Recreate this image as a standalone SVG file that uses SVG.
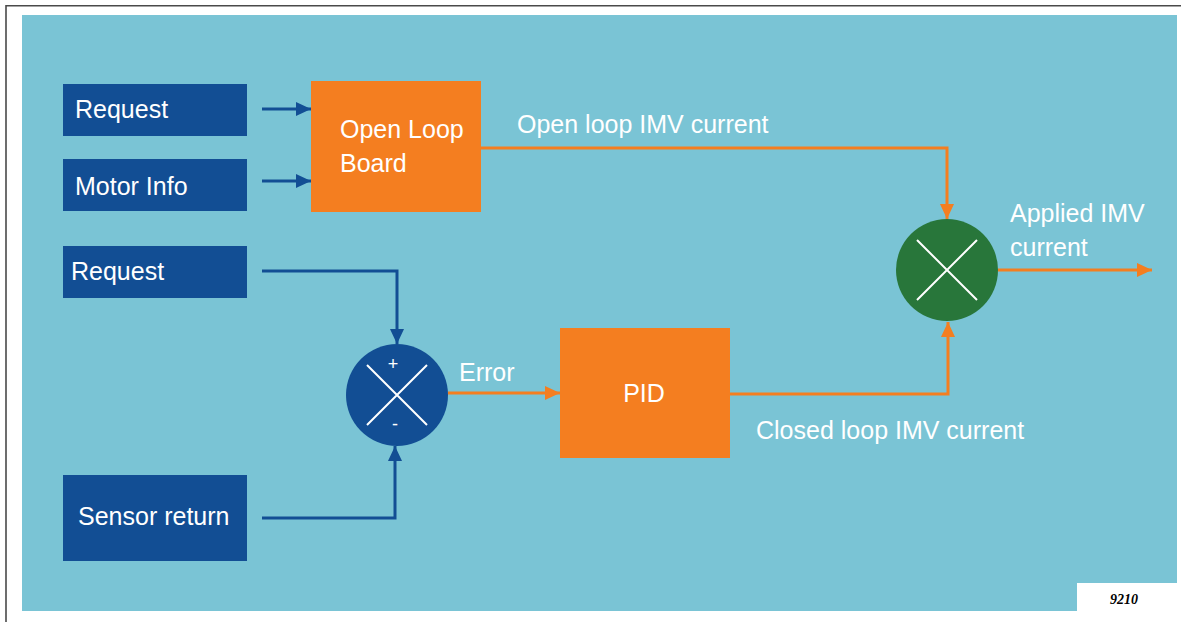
<svg xmlns="http://www.w3.org/2000/svg" width="1181" height="622" viewBox="0 0 1181 622">
<defs>
<style>
.t{font-family:"Liberation Sans",Arial,sans-serif;font-size:25px;fill:#ffffff}
.bb{fill:#124E94}
.ob{fill:#F47E20}
.bl{fill:none;stroke:#124E94;stroke-width:3}
.ol{fill:none;stroke:#F47E20;stroke-width:3}
.x{stroke:#ffffff;stroke-width:2}
</style>
<marker id="ab" markerUnits="userSpaceOnUse" markerWidth="15" markerHeight="14" refX="15" refY="7" orient="auto"><path d="M0,0 L15,7 L0,14 z" fill="#124E94"/></marker>
<marker id="ao" markerUnits="userSpaceOnUse" markerWidth="15" markerHeight="14" refX="15" refY="7" orient="auto"><path d="M0,0 L15,7 L0,14 z" fill="#F47E20"/></marker>
</defs>
<rect width="1181" height="622" fill="#ffffff"/>
<path d="M6,622 V5.8 H1181" fill="none" stroke="#4a4a4a" stroke-width="1.6"/>
<rect x="22" y="15" width="1155" height="596" fill="#7AC4D5"/>
<rect x="1077" y="583" width="100" height="28" fill="#ffffff"/>
<text x="1110" y="604" style="font-family:'Liberation Serif','Times New Roman',serif;font-size:14px;font-weight:bold;font-style:italic;fill:#000">9210</text>

<g id="connectors">
<path class="bl" d="M262,109 H311" marker-end="url(#ab)"/>
<path class="bl" d="M262,181 H311" marker-end="url(#ab)"/>
<path class="bl" d="M262,271 H397 V344" marker-end="url(#ab)"/>
<path class="bl" d="M262,518 H395 V446" marker-end="url(#ab)"/>
<path class="ol" d="M448,393 H560" marker-end="url(#ao)"/>
<path class="ol" d="M481,148 H947 V219" marker-end="url(#ao)"/>
<path class="ol" d="M730,394 H948 V322" marker-end="url(#ao)"/>
<path class="ol" d="M998,270 H1152" marker-end="url(#ao)"/>
</g>

<g id="request1"><rect class="bb" x="63" y="84" width="184" height="52"/><text class="t" x="75" y="118">Request</text></g>
<g id="motorinfo"><rect class="bb" x="63" y="159" width="184" height="52"/><text class="t" x="75" y="195">Motor Info</text></g>
<g id="openloop"><rect class="ob" x="311" y="81" width="170" height="131"/><text class="t" x="340" y="138">Open Loop</text><text class="t" x="340" y="172">Board</text></g>
<g id="request2"><rect class="bb" x="63" y="246" width="184" height="52"/><text class="t" x="71" y="280">Request</text></g>
<g id="sensor"><rect class="bb" x="63" y="475" width="184" height="86"/><text class="t" x="78" y="525">Sensor return</text></g>
<g id="sum"><circle cx="397" cy="395" r="51" fill="#124E94"/><path class="x" d="M367,365 L427,425 M427,365 L367,425"/><text class="t" x="393" y="370" text-anchor="middle" style="font-size:18px">+</text><text class="t" x="395" y="430" text-anchor="middle" style="font-size:18px">-</text></g>
<g id="pid"><rect class="ob" x="560" y="328" width="170" height="130"/><text class="t" x="644" y="402" text-anchor="middle">PID</text></g>
<g id="mult"><circle cx="947" cy="270" r="51" fill="#28763A"/><path class="x" d="M917,240 L977,300 M977,240 L917,300"/></g>

<g id="labels">
<text class="t" x="517" y="133">Open loop IMV current</text>
<text class="t" x="756" y="439">Closed loop IMV current</text>
<text class="t" x="459" y="381">Error</text>
<text class="t" x="1010" y="222">Applied IMV</text>
<text class="t" x="1010" y="256">current</text>
</g>
</svg>
